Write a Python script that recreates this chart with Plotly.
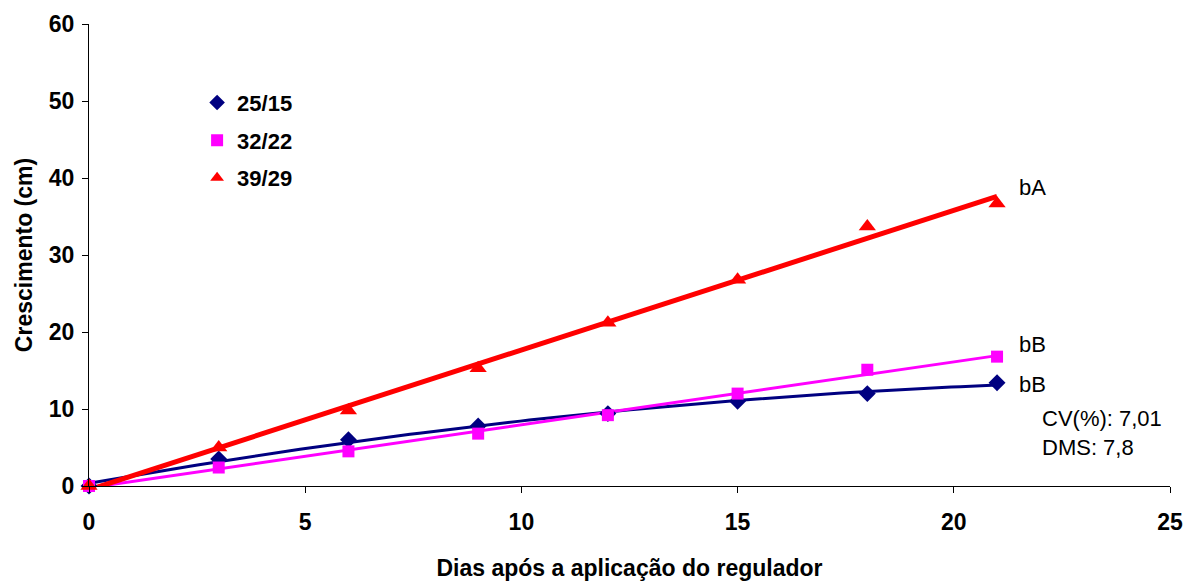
import numpy as np
import plotly.graph_objects as go

dias = [0, 3, 6, 9, 12, 15, 18, 21]
s_25_15 = [0, 3.5, 6.0, 7.8, 9.4, 11.0, 12.0, 13.4]
s_32_22 = [0, 2.4, 4.5, 6.8, 9.2, 12.0, 15.1, 16.8]
s_39_29 = [0, 5.0, 9.8, 15.3, 21.2, 26.8, 33.7, 36.7]

series = [
    ("25/15", s_25_15, "#000080", "diamond", 13, 2, 3),
    ("32/22", s_32_22, "#FF00FF", "square", 12, 1, 3),
    ("39/29", s_39_29, "#FF0000", "triangle-up", 15, 1, 5),
]

x_arr = np.array(dias, dtype=float)
xfit = np.linspace(0, 21, 100)

fig = go.Figure()
for i, (name, ys, color, sym, size, deg, lw) in enumerate(series):
    coef = np.polyfit(x_arr, np.array(ys), deg)
    fig.add_trace(go.Scatter(x=xfit, y=np.polyval(coef, xfit), mode="lines",
                             line=dict(color=color, width=lw), showlegend=False,
                             hoverinfo="skip", cliponaxis=False))
for i, (name, ys, color, sym, size, deg, lw) in enumerate(series):
    fig.add_trace(go.Scatter(x=dias, y=ys, mode="markers", name=name,
                             legendgroup=name,
                             marker=dict(symbol=sym, size=size, color=color, line=dict(width=0)),
                             cliponaxis=False))

font_fam = "Liberation Sans, Arial, sans-serif"
annots = [
    dict(x=21.45, y=38.8, text="bA"),
    dict(x=21.45, y=18.4, text="bB"),
    dict(x=21.45, y=13.2, text="bB"),
    dict(x=22.0, y=8.8, text="CV(%): 7,01"),
    dict(x=22.0, y=5.0, text="DMS: 7,8"),
]
for a in annots:
    fig.add_annotation(x=a["x"], y=a["y"], text=a["text"], xref="x", yref="y",
                       xanchor="left", yanchor="middle", showarrow=False,
                       font=dict(family=font_fam, size=22, color="black"))

fig.update_layout(
    width=1186, height=581,
    margin=dict(l=89, r=16, t=24, b=95),
    paper_bgcolor="white", plot_bgcolor="white",
    font=dict(family=font_fam, color="black"),
    showlegend=True,
    legend=dict(x=0.1, y=0.875, xanchor="left", yanchor="top",
                font=dict(family=font_fam, size=22, color="black", weight="bold"),
                bgcolor="rgba(0,0,0,0)", tracegroupgap=6, traceorder="grouped",
                itemsizing="constant", itemwidth=30),
    xaxis=dict(range=[0, 25], tickvals=[0, 5, 10, 15, 20, 25], showgrid=False,
               zeroline=False, showline=True, linecolor="black", linewidth=1,
               ticks="outside", ticklen=6, tickcolor="black", ticklabelstandoff=9,
               automargin=False,
               tickfont=dict(family=font_fam, size=23, color="black", weight="bold"),
               title=dict(text="<b>Dias após a aplicação do regulador</b>", standoff=27,
                          font=dict(family=font_fam, size=23, color="black"))),
    yaxis=dict(range=[0, 60], tickvals=[0, 10, 20, 30, 40, 50, 60], showgrid=False,
               zeroline=False, showline=True, linecolor="black", linewidth=1,
               ticks="outside", ticklen=6, tickcolor="black", ticklabelstandoff=3,
               automargin=False,
               tickfont=dict(family=font_fam, size=23, color="black", weight="bold"),
               title=dict(text="<b>Crescimento (cm)</b>", standoff=9,
                          font=dict(family=font_fam, size=23, color="black"))),
)

fig.write_html("out.html", config={"displayModeBar": False},
               post_script="document.body.style.margin='0';")
